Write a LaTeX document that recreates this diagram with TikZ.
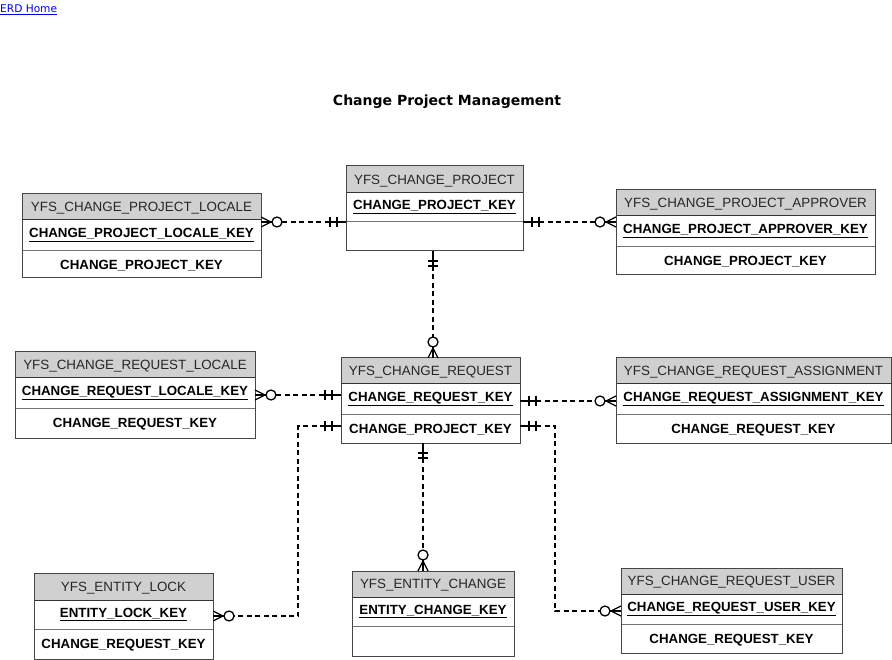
\documentclass[tikz,border=0pt]{standalone}
\usepackage{fontspec}
\setmainfont{Liberation Sans}
\newfontfamily\dejavu{DejaVu Sans}
\usetikzlibrary{calc}
\definecolor{hdrgray}{RGB}{208,208,208}
\definecolor{linkblue}{RGB}{0,0,238}
\definecolor{boxline}{RGB}{70,70,70}
\tikzset{
  conn/.style={line width=1.3pt, black},
  dashconn/.style={conn, dash pattern=on 5pt off 3.5pt},
  entbox/.style={draw=boxline, line width=1pt, anchor=north west, inner sep=0pt, outer sep=0pt},
  hdrline/.style={draw=black!80, line width=1pt},
  rowline/.style={draw=black!55, line width=1pt},
  hdrtext/.style={font=\fontsize{13.4}{15}\selectfont, text=black!85, inner sep=0pt, anchor=base},
  keytext/.style={font=\fontsize{13.3}{15}\selectfont\bfseries, text=black, inner sep=0pt, anchor=base},
  titletext/.style={font=\dejavu\bfseries\fontsize{14}{16}\selectfont, inner sep=0pt, anchor=base},
  linktext/.style={font=\dejavu\fontsize{10.6}{12}\selectfont, text=linkblue, inner sep=0pt, anchor=base west},
}
% name, x1, x2, y1, header bottom, divider, y2, title, key
\newcommand\entity[9]{%
  \fill[hdrgray] (#2,#4) rectangle (#3,#5);
  \draw[hdrline] (#2,#5) -- (#3,#5);
  \draw[rowline] (#2,#6) -- (#3,#6);
  \node[entbox, minimum width={(#3-#2)*1pt}, minimum height={(#7-#4)*1pt}] (#1) at (#2,#4) {};
  \node[hdrtext] (#1-t) at ({(#2+#3)/2},{(#4+#5)/2+4.7}) {#8};
  \node[keytext] (#1-k) at ({(#2+#3)/2},{(#5+#6)/2+2.5}) {\underline{#9}};
}
% name, x1, x2, divider, y2, text
\newcommand\entattr[6]{%
  \node[keytext] (#1-a) at ({(#2+#3)/2},{(#4+#5)/2+4.7}) {#6};
}
\newcommand\crowH[2]{%
  \draw[conn] ($(#1)+(0,-5)$) -- ($(#1)+(#2*10,0)$) -- ($(#1)+(0,5)$);
  \draw[conn] (#1) -- ($(#1)+(#2*11,0)$);
  \draw[conn] ($(#1)+(#2*16,0)$) circle[radius=5pt];
}
\newcommand\barH[2]{%
  \draw[conn] (#1) -- ($(#1)+(#2*16,0)$);
  \draw[conn] ($(#1)+(#2*9,-5)$) -- ($(#1)+(#2*9,5)$);
  \draw[conn] ($(#1)+(#2*16,-5)$) -- ($(#1)+(#2*16,5)$);
}
\newcommand\crowV[2]{%
  \draw[conn] ($(#1)+(-5,0)$) -- ($(#1)+(0,#2*10)$) -- ($(#1)+(5,0)$);
  \draw[conn] (#1) -- ($(#1)+(0,#2*11)$);
  \draw[conn] ($(#1)+(0,#2*16)$) circle[radius=5pt];
}
\newcommand\barV[2]{%
  \draw[conn] (#1) -- ($(#1)+(0,#2*15)$);
  \draw[conn] ($(#1)+(-5,#2*10)$) -- ($(#1)+(5,#2*10)$);
  \draw[conn] ($(#1)+(-5,#2*15)$) -- ($(#1)+(5,#2*15)$);
}
\begin{document}
\begin{tikzpicture}[x=1pt,y=-1pt]
\useasboundingbox (0,0) rectangle (892,660);
\fill[white] (0,0) rectangle (892,660);

\node[linktext] (home) at (0,12.5) {\underline{ERD Home}};
\node[titletext] (title) at (447,106) {Change Project Management};

\entity{cp}{346}{523}{166}{193}{222}{251}{YFS\_CHANGE\_PROJECT}{CHANGE\_PROJECT\_KEY}
\entity{cpl}{22}{261}{194}{220}{251}{278}{YFS\_CHANGE\_PROJECT\_LOCALE}{CHANGE\_PROJECT\_LOCALE\_KEY}
\entattr{cpl}{22}{261}{251}{278}{CHANGE\_PROJECT\_KEY}
\entity{cpa}{616}{875}{190}{216}{247}{275}{YFS\_CHANGE\_PROJECT\_APPROVER}{CHANGE\_PROJECT\_APPROVER\_KEY}
\entattr{cpa}{616}{875}{247}{275}{CHANGE\_PROJECT\_KEY}
\entity{crl}{15}{255}{352}{378}{408}{438}{YFS\_CHANGE\_REQUEST\_LOCALE}{CHANGE\_REQUEST\_LOCALE\_KEY}
\entattr{crl}{15}{255}{408}{438}{CHANGE\_REQUEST\_KEY}
\entity{cr}{341}{520}{358}{384}{414}{443}{YFS\_CHANGE\_REQUEST}{CHANGE\_REQUEST\_KEY}
\entattr{cr}{341}{520}{414}{443}{CHANGE\_PROJECT\_KEY}
\entity{cra}{616}{891}{358}{384}{414}{443}{YFS\_CHANGE\_REQUEST\_ASSIGNMENT}{CHANGE\_REQUEST\_ASSIGNMENT\_KEY}
\entattr{cra}{616}{891}{414}{443}{CHANGE\_REQUEST\_KEY}
\entity{el}{34}{213}{573}{600}{629}{659}{YFS\_ENTITY\_LOCK}{ENTITY\_LOCK\_KEY}
\entattr{el}{34}{213}{629}{659}{CHANGE\_REQUEST\_KEY}
\entity{ec}{352}{514}{571}{597}{626}{656}{YFS\_ENTITY\_CHANGE}{ENTITY\_CHANGE\_KEY}
\entity{cru}{621}{842}{568}{594}{624}{653}{YFS\_CHANGE\_REQUEST\_USER}{CHANGE\_REQUEST\_USER\_KEY}
\entattr{cru}{621}{842}{624}{653}{CHANGE\_REQUEST\_KEY}

% level helpers
\coordinate (h222) at (0,222);
\coordinate (h395) at (0,395);
\coordinate (h401) at (0,401);
\coordinate (h426) at (0,426);
\coordinate (h616) at (0,616);
\coordinate (h611) at (0,611);
\coordinate (v433) at (433,0);
\coordinate (v423) at (423,0);

% CPL -- CP
\coordinate (r1a) at (cpl.east |- h222);
\coordinate (r1b) at (cp.west |- h222);
\crowH{r1a}{1}
\barH{r1b}{-1}
\draw[dashconn] ($(r1a)+(21,0)$) -- ($(r1b)+(-16,0)$);

% CP -- CPA
\coordinate (r2a) at (cp.east |- h222);
\coordinate (r2b) at (cpa.west |- h222);
\barH{r2a}{1}
\crowH{r2b}{-1}
\draw[dashconn] ($(r2a)+(16,0)$) -- ($(r2b)+(-21,0)$);

% CP -- CR
\coordinate (r3a) at (cp.south -| v433);
\coordinate (r3b) at (cr.north -| v433);
\barV{r3a}{1}
\crowV{r3b}{-1}
\draw[dashconn] ($(r3a)+(0,15)$) -- ($(r3b)+(0,-21)$);

% CRL -- CR
\coordinate (r4a) at (crl.east |- h395);
\coordinate (r4b) at (cr.west |- h395);
\crowH{r4a}{1}
\barH{r4b}{-1}
\draw[dashconn] ($(r4a)+(21,0)$) -- ($(r4b)+(-16,0)$);

% CR -- CRA
\coordinate (r5a) at (cr.east |- h401);
\coordinate (r5b) at (cra.west |- h401);
\barH{r5a}{1}
\crowH{r5b}{-1}
\draw[dashconn] ($(r5a)+(16,0)$) -- ($(r5b)+(-21,0)$);

% CR -- EL
\coordinate (r6a) at (cr.west |- h426);
\coordinate (r6b) at (el.east |- h616);
\coordinate (r6c) at (298,426);
\coordinate (r6d) at (298,616);
\barH{r6a}{-1}
\crowH{r6b}{1}
\draw[dashconn] ($(r6a)+(-16,0)$) -- (r6c) -- (r6d) -- ($(r6b)+(21,0)$);

% CR -- CRU
\coordinate (r7a) at (cr.east |- h426);
\coordinate (r7b) at (cru.west |- h611);
\coordinate (r7c) at (555,426);
\coordinate (r7d) at (555,611);
\barH{r7a}{1}
\crowH{r7b}{-1}
\draw[dashconn] ($(r7a)+(16,0)$) -- (r7c) -- (r7d) -- ($(r7b)+(-21,0)$);

% CR -- EC
\coordinate (r8a) at (cr.south -| v423);
\coordinate (r8b) at (ec.north -| v423);
\barV{r8a}{1}
\crowV{r8b}{-1}
\draw[dashconn] ($(r8a)+(0,15)$) -- ($(r8b)+(0,-21)$);
\end{tikzpicture}
\end{document}
